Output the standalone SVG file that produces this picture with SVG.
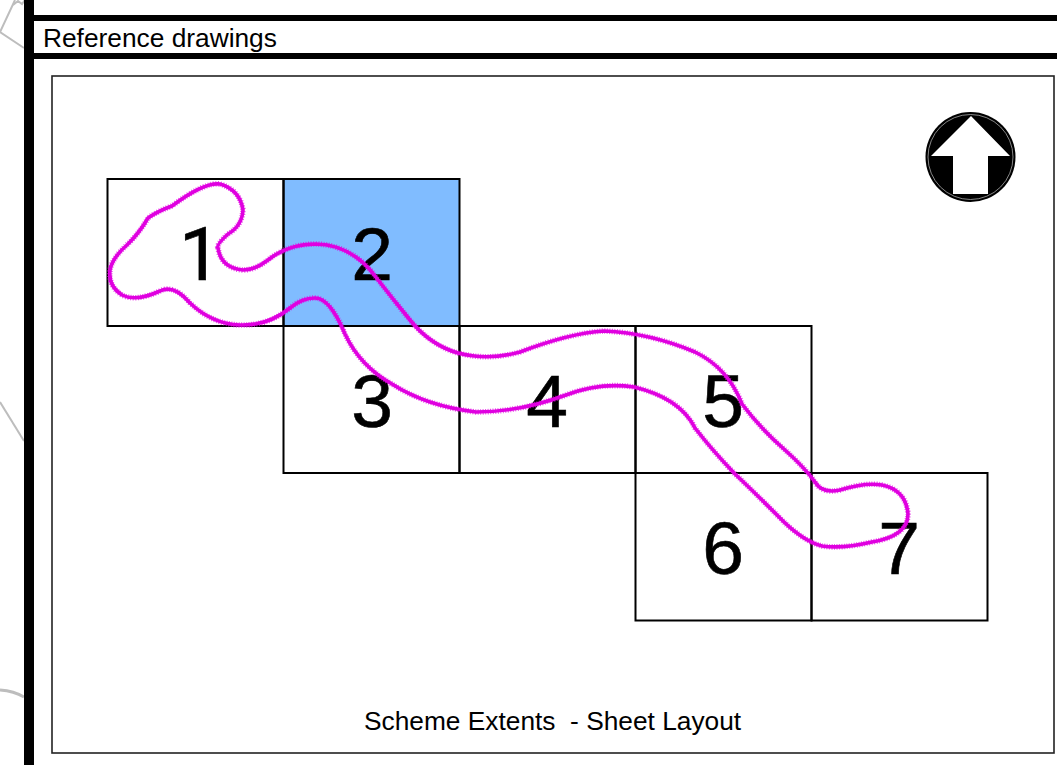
<svg xmlns="http://www.w3.org/2000/svg" width="1057" height="765" viewBox="0 0 1057 765">
<style>
.bar{fill:#000}
.sheet{fill:none;stroke:#000;stroke-width:2}
.num{font-family:"Liberation Sans",Arial,sans-serif;font-size:75px;text-anchor:middle;fill:#000;stroke:#000;stroke-width:.6}
.one{font-family:Roboto,"Liberation Sans",sans-serif}
.lbl{font-family:"Liberation Sans",Arial,sans-serif;font-size:26.300px;fill:#000}
.grey{fill:none;stroke:#bdbdbd;stroke-width:2}
.route{fill:none;stroke:#e000e0;stroke-linejoin:round}
</style>
<defs>
<path id="loop" d="M218 248 Q221 268 243 270 Q255 270 268 260 Q288 244 316 244 Q352 245 375 276 Q392 298 410 320 Q430 345 458 353 Q488 361 520 352 Q570 333 604 331 Q650 333 695 352 Q728 368 742 404 Q760 428 785 450 Q805 468 815 482 Q822 494 840 490 Q866 482 882 485 Q906 490 908 514 Q908 536 872 542 Q842 549 822 546 Q802 541 778 516 Q752 490 735 474 Q712 450 695 428 Q680 398 634 387 Q600 382 566 395 Q520 412 476 412 Q426 406 392 384 Q360 366 345 334 Q330 298 315 298 Q302 298 290 308 Q268 326 240 325 Q212 324 190 303 Q174 284 160 291 Q136 302 122 295 Q108 286 110 270 Q112 258 128 244 Q140 232 148 218 Q158 211 172 206 Q204 182 220 184 Q240 190 243 210 Q242 226 228 234 Q216 245 218 248 Z"/>
</defs>
<rect width="1057" height="765" fill="#fff"/>
<g id="background-lines">
<path class="grey" d="M15 0 L0 32 L24 48"/>
<path class="grey" d="M13 5 L18 1 L22 4 L25 0"/>
<path class="grey" d="M0 402 L24 441"/>
<path class="grey" style="stroke-width:3" d="M0 690 Q14 691 24 697"/>
</g>
<g id="frame">
<rect class="bar" x="24" y="0" width="10" height="765"/>
<rect class="bar" x="34" y="15" width="1023" height="6"/>
<rect class="bar" x="34" y="53" width="1023" height="6"/>
<rect x="52" y="76" width="1002" height="677" fill="#fff" stroke="#222" stroke-width="1.600"/>
</g>
<text id="title" class="lbl" x="43" y="47">Reference drawings</text>
<g id="sheet-2"><rect x="283.500" y="179" width="176" height="147" fill="#80bcff" stroke="#000" stroke-width="2"/><text class="num" x="372" y="280">2</text></g>
<g id="sheet-1"><rect class="sheet" x="107.500" y="179" width="176" height="147"/><text class="num one" x="200" y="280">1</text></g>
<g id="sheet-3"><rect class="sheet" x="283.500" y="326" width="176" height="147"/><text class="num" x="372" y="427">3</text></g>
<g id="sheet-4"><rect class="sheet" x="459.500" y="326" width="176" height="147"/><text class="num" x="547" y="427">4</text></g>
<g id="sheet-5"><rect class="sheet" x="635.500" y="326" width="176" height="147"/><text class="num" x="723" y="427">5</text></g>
<g id="sheet-6"><rect class="sheet" x="635.500" y="473" width="176" height="147.500"/><text class="num" x="723" y="574">6</text></g>
<g id="sheet-7"><rect class="sheet" x="811.500" y="473" width="176" height="147.500"/><text class="num" x="899" y="574">7</text></g>
<g id="connectors">
<use href="#loop" class="route" stroke-width="3.600"/>
<use href="#loop" class="route" stroke-width="5.600" stroke-dasharray="1 1.500" opacity="0.7"/>
</g>
<g id="north-arrow">
<circle cx="970.500" cy="157" r="45" fill="#000"/>
<circle cx="970.500" cy="157" r="42.500" fill="#000" stroke="#aaa" stroke-width="0.800"/>
<path d="M971 116 L1010 156 L988 156 L988 194 L953 194 L953 156 L931 156 Z" fill="#fff"/>
</g>
<text id="caption" class="lbl" x="364" y="730" xml:space="preserve">Scheme Extents  - Sheet Layout</text>
</svg>
